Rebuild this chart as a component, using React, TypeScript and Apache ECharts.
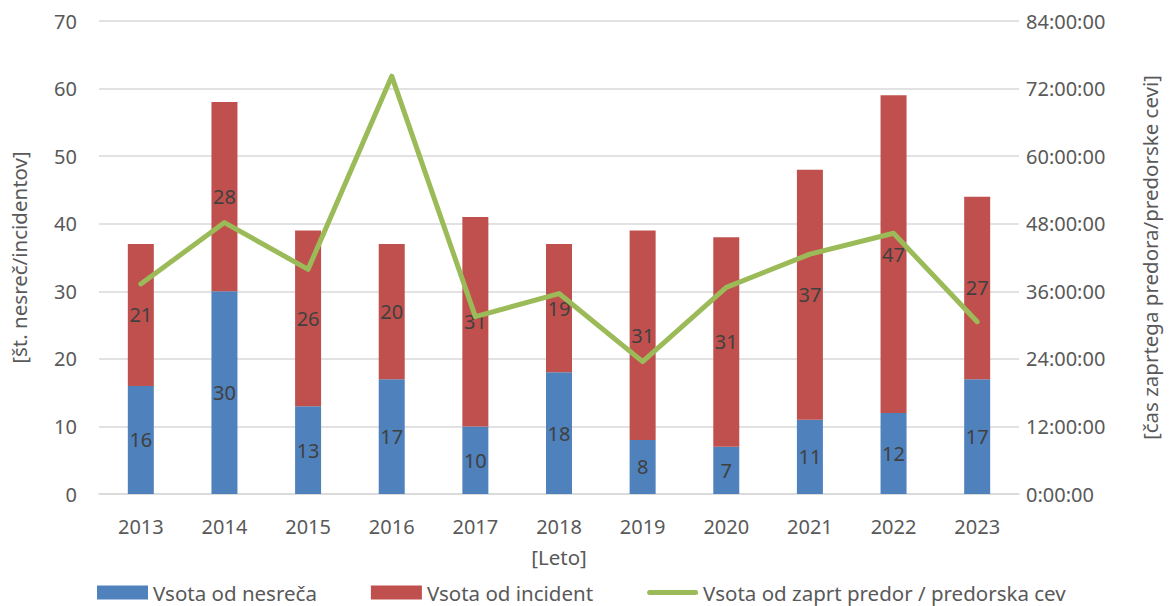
import React, { useEffect, useRef } from "react";
import * as echarts from "echarts";

const years = ["2013", "2014", "2015", "2016", "2017", "2018", "2019", "2020", "2021", "2022", "2023"];
const nesreca = [16, 30, 13, 17, 10, 18, 8, 7, 11, 12, 17];
const incident = [21, 28, 26, 20, 31, 19, 31, 31, 37, 47, 27];
// closure time in hours
const zaprtHours = [37.3, 48.2, 39.9, 74.2, 31.5, 35.6, 23.5, 36.7, 42.6, 46.3, 30.6];

const FONT = "'Noto Sans', 'Open Sans', sans-serif";
const TXT = "#595959";

export default function App() {
  const ref = useRef<HTMLDivElement>(null);
  useEffect(() => {
    if (!ref.current) return;
    const chart = echarts.init(ref.current, null, { renderer: "svg" });
    const labelStyle = {
      show: true,
      position: "inside" as const,
      color: "#404040",
      fontSize: 20,
      fontFamily: FONT,
    };
    chart.setOption({
      animation: false,
      textStyle: { fontFamily: FONT },
      grid: { left: 97, right: 150, top: 21, bottom: 112, containLabel: false },
      legend: {
        bottom: -2,
        left: 92,
        itemWidth: 51,
        itemHeight: 14,
        itemGap: 54,
        textStyle: { color: TXT, fontSize: 20.5, fontFamily: FONT },
        data: [
          { name: "Vsota od nesreča", icon: "rect" },
          { name: "Vsota od incident", icon: "rect" },
          {
            name: "Vsota od zaprt predor / predorska cev",
            icon: "path://M2.5,0 L48.5,0 A2.5,2.5 0 0 1 48.5,5 L2.5,5 A2.5,2.5 0 0 1 2.5,0 Z",
            itemStyle: { color: "#9BBB59", borderWidth: 0 },
          },
        ],
      },
      xAxis: {
        type: "category",
        data: years,
        name: "[Leto]",
        nameLocation: "middle",
        nameGap: 52,
        nameTextStyle: { color: TXT, fontSize: 20.5, fontFamily: FONT },
        axisLine: { lineStyle: { color: "#d9d9d9", width: 1.5 } },
        axisTick: { show: false },
        axisLabel: { color: TXT, fontSize: 20, margin: 22, fontFamily: FONT },
      },
      yAxis: [
        {
          type: "value",
          min: 0,
          max: 70,
          interval: 10,
          name: "[št. nesreč/incidentov]",
          nameLocation: "middle",
          nameRotate: 90,
          nameGap: 70,
          nameTextStyle: { color: TXT, fontSize: 20.5, fontFamily: FONT },
          axisLabel: { color: TXT, fontSize: 20, margin: 22, fontFamily: FONT },
          splitLine: { lineStyle: { color: "#d9d9d9", width: 1.5 } },
          axisLine: { show: false },
          axisTick: { show: false },
        },
        {
          type: "value",
          min: 0,
          max: 84,
          interval: 12,
          position: "right",
          name: "[čas zaprtega predora/predorske cevi]",
          nameLocation: "middle",
          nameRotate: 90,
          nameGap: 120,
          nameTextStyle: { color: TXT, fontSize: 20.5, fontFamily: FONT },
          axisLabel: {
            color: TXT,
            fontSize: 20,
            margin: 7,
            fontFamily: FONT,
            formatter: (v: number) => `${v}:00:00`,
          },
          splitLine: { show: false },
          axisLine: { show: false },
          axisTick: { show: false },
        },
      ],
      series: [
        {
          name: "Vsota od nesreča",
          type: "bar",
          stack: "a",
          barWidth: 26,
          data: nesreca,
          itemStyle: { color: "#4F81BD" },
          label: labelStyle,
          z: 2,
        },
        {
          name: "Vsota od incident",
          type: "bar",
          stack: "a",
          barWidth: 26,
          data: incident,
          itemStyle: { color: "#C0504D" },
          label: labelStyle,
          z: 2,
        },
        {
          name: "Vsota od zaprt predor / predorska cev",
          type: "line",
          yAxisIndex: 1,
          data: zaprtHours,
          symbol: "none",
          showSymbol: false,
          lineStyle: { color: "#9BBB59", width: 5, cap: "round", join: "round" },
          itemStyle: { color: "#9BBB59" },
          z: 3,
        },
      ],
    });
    return () => chart.dispose();
  }, []);
  return <div ref={ref} style={{ width: 1169, height: 606, position: "absolute", left: 0, top: 0 }} />;
}
